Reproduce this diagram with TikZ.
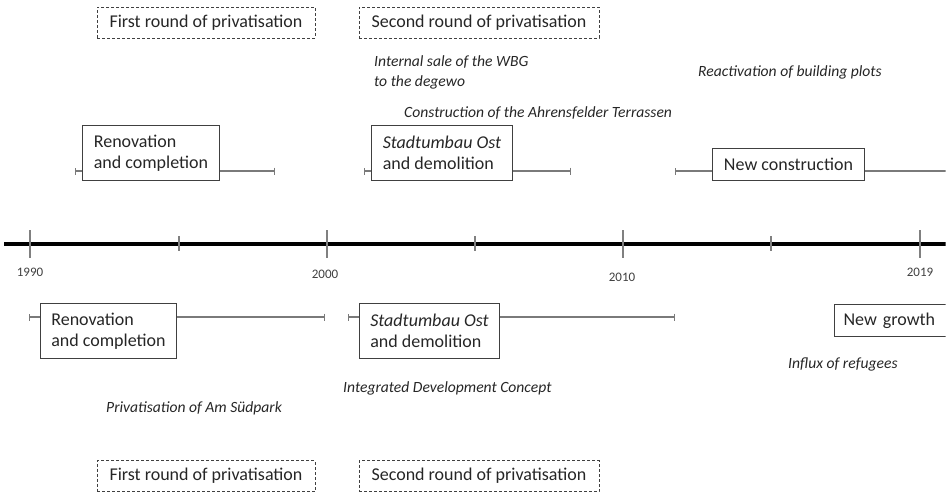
\documentclass[tikz,border=0pt]{standalone}
\usepackage{fontspec}
\setmainfont{Carlito}
\usetikzlibrary{arrows.meta}
\definecolor{txt}{HTML}{262626}
\definecolor{boxc}{HTML}{404040}
\definecolor{linec}{HTML}{7A7A7A}
\definecolor{tickc}{HTML}{808080}
\definecolor{yearc}{HTML}{404040}
\begin{document}
\begin{tikzpicture}[x=1pt,y=-1pt,
  phase/.style={draw=boxc, line width=1pt, inner xsep=0pt, inner ysep=0pt,
    align=left, text=txt, font=\fontsize{18}{21}\selectfont, anchor=north west},
  roundbox/.style={draw=boxc, line width=0.9pt, dash pattern=on 3pt off 2pt,
    text=txt, font=\fontsize{18}{21}\selectfont, minimum height=31pt, inner sep=0pt},
  event/.style={text=txt, font=\fontsize{15.6}{19.5}\selectfont\itshape, align=left,
    anchor=west, inner sep=0pt},
  year/.style={text=yearc, font=\fontsize{13}{15}\selectfont, inner sep=0pt},
  capL/.style={draw=linec, line width=1.3pt, {Bar[width=7pt]}-},
  capR/.style={draw=linec, line width=1.3pt, -{Bar[width=7pt]}},
  plain/.style={draw=linec, line width=1.3pt},
  tick/.style={draw=tickc, line width=1.6pt},
]
\useasboundingbox (0,0) rectangle (950,495);
\begin{scope}
\clip (0,-5) rectangle (945.5,500);

% timeline
\coordinate (tlA) at (4,243.7);
\coordinate (tlB) at (960,243.7);
\draw[line width=4pt, black] (tlA) -- (tlB);
\foreach \i/\x in {0/30,2/327,4/623,6/920}{
  \coordinate (tma\i) at (\x,230);
  \coordinate (tmb\i) at (\x,258);
  \draw[tick] (tma\i) -- (tmb\i);
}
\foreach \i/\x in {1/179,3/475,5/771}{
  \coordinate (tma\i) at (\x,236);
  \coordinate (tmb\i) at (\x,251);
  \draw[tick] (tma\i) -- (tmb\i);
}
\node[year] (y1990) at (30,272) {1990};
\node[year] (y2000) at (325,274) {2000};
\node[year] (y2010) at (622,277) {2010};
\node[year] (y2019) at (920,272) {2019};

% dashed boxes
\node[roundbox, minimum width=218pt] (fr1) at (206,22.5) {First round of privatisation};
\node[roundbox, minimum width=240pt] (sr1) at (479,22.5) {Second round of privatisation};
\node[roundbox, minimum width=218pt] (fr2) at (206,476) {First round of privatisation};
\node[roundbox, minimum width=240pt] (sr2) at (479,476) {Second round of privatisation};

% upper phases
\node[phase, minimum width=137pt, minimum height=55pt] (renU) at (82,125) {Renovation\\and completion};
\coordinate (renUa) at (75,171);
\coordinate (renUb) at (275,171);
\draw[capL] (renUa) -- (renUa -| renU.west);
\draw[capR] (renUa -| renU.east) -- (renUb);

\node[phase, minimum width=141pt, minimum height=55pt] (stU) at (371,125) {\textit{Stadtumbau Ost}\\and demolition};
\coordinate (stUa) at (364,171);
\coordinate (stUb) at (571,171);
\draw[capL] (stUa) -- (stUa -| stU.west);
\draw[capR] (stUa -| stU.east) -- (stUb);

\node[phase, align=center, minimum width=152pt, minimum height=32pt] (ncU) at (712,148) {New construction};
\coordinate (ncUa) at (675,171);
\coordinate (ncUb) at (960,171);
\draw[capL] (ncUa) -- (ncUa -| ncU.west);
\draw[plain] (ncUa -| ncU.east) -- (ncUb);

% lower phases
\node[phase, minimum width=136pt, minimum height=55pt] (renL) at (40,303) {Renovation\\and completion};
\coordinate (renLa) at (29,317);
\coordinate (renLb) at (325,317);
\draw[capL] (renLa) -- (renLa -| renL.west);
\draw[capR] (renLa -| renL.east) -- (renLb);

\node[phase, minimum width=140pt, minimum height=55pt] (stL) at (359,303) {\textit{Stadtumbau Ost}\\and demolition};
\coordinate (stLa) at (348,317);
\coordinate (stLb) at (675,317);
\draw[capL] (stLa) -- (stLa -| stL.west);
\draw[capR] (stLa -| stL.east) -- (stLb);

\node[phase, minimum width=130pt, minimum height=32pt, inner xsep=9pt, text width=112pt] (ngL) at (834,304) {New growth};

% events
\node[event] (ev1) at (374,72.5) {Internal sale of the WBG\\to the degewo};
\node[event] (ev2) at (404,113) {Construction of the Ahrensfelder Terrassen};
\node[event] (ev3) at (698,72) {Reactivation of building plots};
\node[event] (ev4) at (343,388) {Integrated Development Concept};
\node[event] (ev5) at (106,408) {Privatisation of Am Südpark};
\node[event] (ev6) at (788,364) {Influx of refugees};
\end{scope}
\end{tikzpicture}
\end{document}
